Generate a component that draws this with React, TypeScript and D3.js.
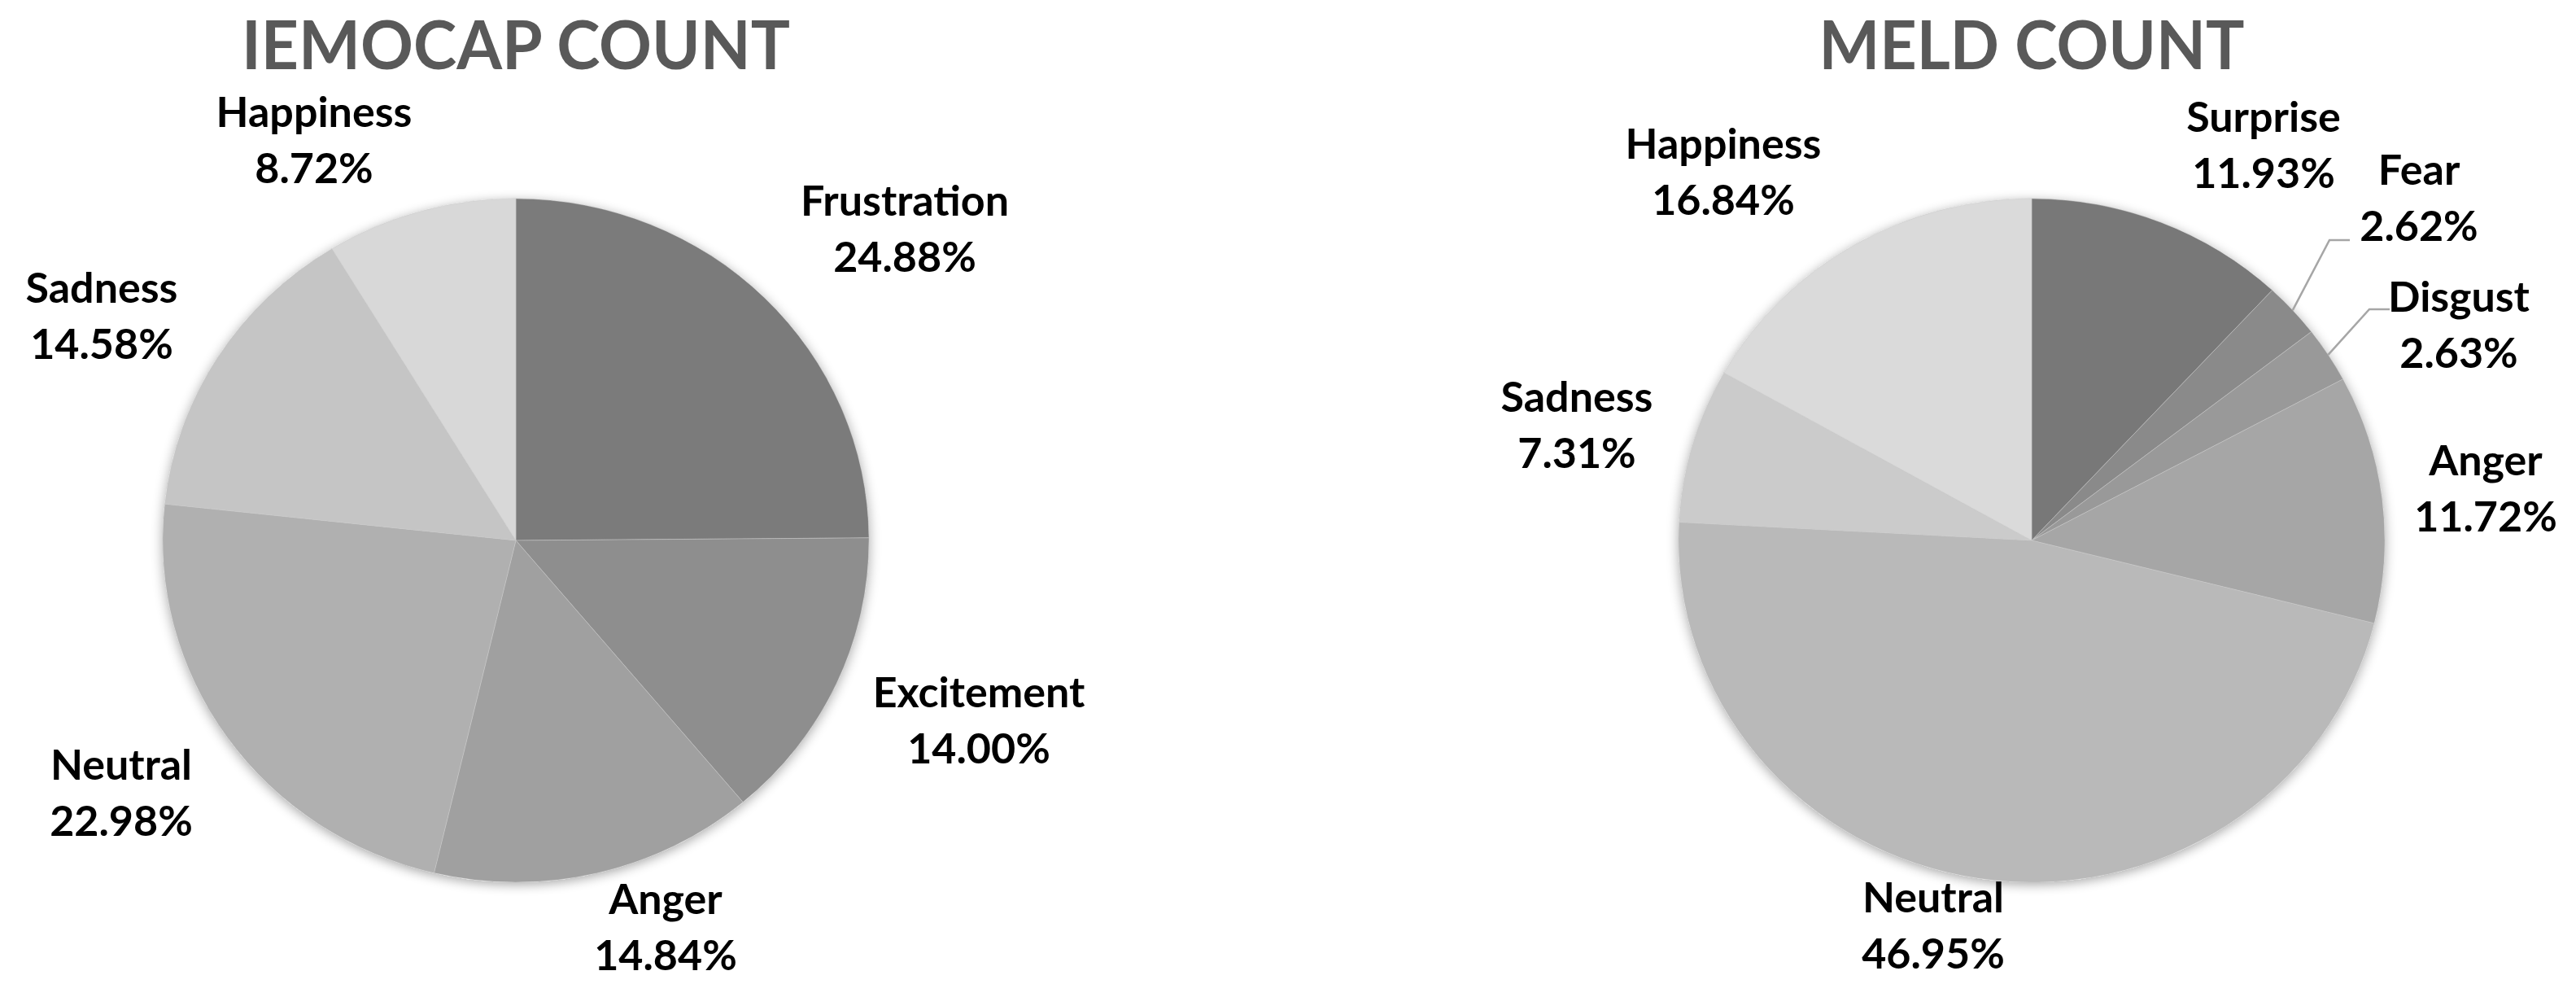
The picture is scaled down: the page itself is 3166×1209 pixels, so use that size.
import React, { useEffect } from 'react';
import * as d3 from 'd3';

// data (clockwise from 12 o'clock)
const iemocapLabels = ['Frustration', 'Excitement', 'Anger', 'Neutral', 'Sadness', 'Happiness'];
const iemocapValues = [24.88, 14.0, 14.84, 22.98, 14.58, 8.72];

const meldLabels = ['Surprise', 'Fear', 'Disgust', 'Anger', 'Neutral', 'Sadness', 'Happiness'];
const meldValues = [11.93, 2.62, 2.63, 11.72, 46.95, 7.31, 16.84];

// slice shades
const iemocapColors = ['#7b7b7b', '#8e8e8e', '#a0a0a0', '#b0b0b0', '#c5c5c5', '#d8d8d8'];
const meldColors = ['#787878', '#8a8a8a', '#999999', '#a6a6a6', '#b9b9b9', '#cbcbcb', '#dadada'];

// label placement: centre x and first baseline, relative to the pie centre
const iemocapLabelPos = [
  [478, -399], [569, 205], [184, 459], [-485, 294], [-509, -292], [-248, -508],
];
const meldLabelPos = [
  [285, -502], [476, -437], [525, -281], [558, -80], [-121, 457], [-559, -158], [-379, -469],
];
// leader lines for thin slices: [elbow dx, line dy] relative to label start
const meldLeaders: (number[] | null)[] = [null, [-33, 68], [-33, -3], null, null, null, null];

const W = 3166;
const H = 1209;
const RX = 434;
const RY = 420;
const LINE = 69;
const fmt = d3.format('.2f');

type PieProps = {
  title: string;
  titleWidth: number;
  cx: number;
  labels: string[];
  values: number[];
  colors: string[];
  pos: number[][];
  leaders?: (number[] | null)[];
};

const Pie = ({ title, titleWidth, cx, labels, values, colors, pos, leaders }: PieProps) => {
  const cy = 664;
  const pie = d3.pie<number>().sort(null).value(d => d);
  const arcs = pie(values);
  const arc = d3.arc<d3.PieArcDatum<number>>().innerRadius(0).outerRadius(RY);

  return (
    <g>
      <text
        x={cx}
        y={85}
        textAnchor="middle"
        fontFamily="Lato, 'Open Sans', sans-serif"
        fontWeight="bold"
        fontSize={82}
        fill="#595959"
        textLength={titleWidth}
        lengthAdjust="spacingAndGlyphs"
      >
        {title}
      </text>
      <g transform={`translate(${cx},${cy}) scale(${RX / RY},1)`}>
        <circle r={RY} fill="#fff" filter="url(#softShadow)" />
        {arcs.map((a, i) => (
          <path key={i} d={arc(a) || ''} fill={colors[i]} stroke="#c8c8c8" strokeWidth={0.8} strokeOpacity={0.6} />
        ))}
      </g>
      {arcs.map((a, i) => {
        const [dx, dy] = pos[i];
        const lx = cx + dx;
        const ly = cy + dy;
        const ld = leaders && leaders[i];
        let leader = null;
        if (ld) {
          const mid = (a.startAngle + a.endAngle) / 2;
          const sx = cx + RX * Math.sin(mid);
          const sy = cy - RY * Math.cos(mid);
          const endX = lx - 85;
          const yy = ly + ld[1];
          leader = (
            <polyline
              points={`${sx},${sy} ${endX + ld[0] + 8},${yy} ${endX},${yy}`}
              fill="none"
              stroke="#a6a6a6"
              strokeWidth={2.5}
            />
          );
        }
        return (
          <g key={i}>
            {leader}
            <text
              x={lx}
              y={ly}
              textAnchor="middle"
              fontFamily="Lato, 'Open Sans', sans-serif"
              fontWeight="bold"
              fontSize={52}
              fill="#000"
            >
              <tspan x={lx} y={ly}>{labels[i]}</tspan>
              <tspan x={lx} y={ly + LINE}>{fmt(values[i])}%</tspan>
            </text>
          </g>
        );
      })}
    </g>
  );
};

export default function App() {
  useEffect(() => {
    document.body.style.margin = '0';
  }, []);

  return (
    <svg width={W} height={H} viewBox={`0 0 ${W} ${H}`} style={{ display: 'block', background: '#fff' }}>
      <defs>
        <filter id="softShadow" x="-20%" y="-20%" width="140%" height="140%">
          <feGaussianBlur in="SourceAlpha" stdDeviation="7" />
          <feOffset dx="0" dy="3" result="blur" />
          <feComponentTransfer>
            <feFuncA type="linear" slope="0.35" />
          </feComponentTransfer>
          <feMerge>
            <feMergeNode />
            <feMergeNode in="SourceGraphic" />
          </feMerge>
        </filter>
      </defs>
      <rect width={W} height={H} fill="#fff" />
      <Pie
        title="IEMOCAP COUNT"
        titleWidth={674}
        cx={634}
        labels={iemocapLabels}
        values={iemocapValues}
        colors={iemocapColors}
        pos={iemocapLabelPos}
      />
      <Pie
        title="MELD COUNT"
        titleWidth={523}
        cx={2497}
        labels={meldLabels}
        values={meldValues}
        colors={meldColors}
        pos={meldLabelPos}
        leaders={meldLeaders}
      />
    </svg>
  );
}
